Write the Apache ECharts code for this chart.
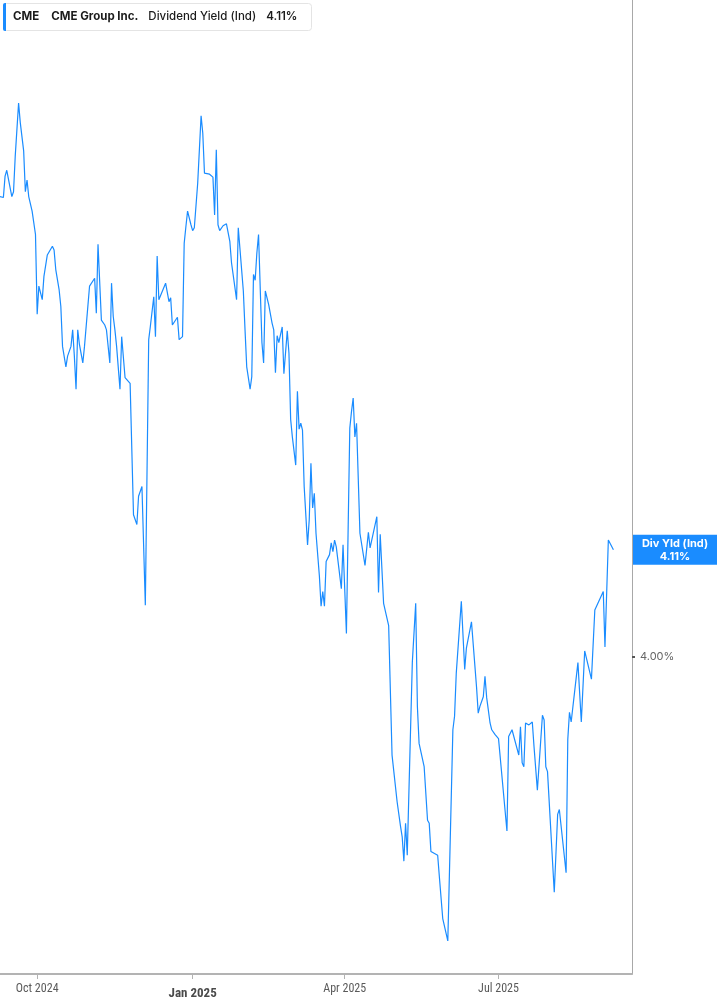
<!DOCTYPE html>
<html>
<head>
<meta charset="utf-8">
<script src="https://cdn.jsdelivr.net/npm/echarts@6/dist/echarts.min.js"></script>
<style>
html, body { margin: 0; padding: 0; background: #fff; }
#chart { width: 717px; height: 1005px; }
</style>
</head>
<body>
<div id="chart"></div>
<script>
var ticker = 'CME';
var company = 'CME Group Inc.';
var metric = 'Dividend Yield (Ind)';
var badgeName = 'Div Yld (Ind)';

var dates = [
  '2024-09-09','2024-09-11','2024-09-12','2024-09-13','2024-09-16','2024-09-17','2024-09-18','2024-09-20','2024-09-21','2024-09-23',
  '2024-09-24','2024-09-25','2024-09-26','2024-09-27','2024-09-28','2024-09-30','2024-10-01','2024-10-02','2024-10-04','2024-10-05',
  '2024-10-07','2024-10-08','2024-10-10','2024-10-11','2024-10-12','2024-10-14','2024-10-15','2024-10-16','2024-10-17','2024-10-18',
  '2024-10-19','2024-10-21','2024-10-22','2024-10-23','2024-10-24','2024-10-25','2024-10-26','2024-10-28','2024-10-29','2024-10-30',
  '2024-11-01','2024-11-04','2024-11-05','2024-11-06','2024-11-08','2024-11-10','2024-11-11','2024-11-13','2024-11-14','2024-11-15',
  '2024-11-16','2024-11-17','2024-11-19','2024-11-20','2024-11-22','2024-11-25','2024-11-27','2024-11-29','2024-11-30','2024-12-02',
  '2024-12-04','2024-12-06','2024-12-07','2024-12-09','2024-12-10','2024-12-11','2024-12-12','2024-12-16','2024-12-17','2024-12-18',
  '2024-12-19','2024-12-20','2024-12-23','2024-12-24','2024-12-26','2024-12-27','2024-12-28','2024-12-29','2024-12-31','2025-01-01',
  '2025-01-02','2025-01-04','2025-01-06','2025-01-07','2025-01-08','2025-01-09','2025-01-11','2025-01-13','2025-01-14','2025-01-15',
  '2025-01-16','2025-01-17','2025-01-19','2025-01-21','2025-01-23','2025-01-24','2025-01-27','2025-01-28','2025-01-31','2025-02-01',
  '2025-02-02','2025-02-04','2025-02-05','2025-02-06','2025-02-07','2025-02-08','2025-02-09','2025-02-10','2025-02-11','2025-02-12',
  '2025-02-13','2025-02-15','2025-02-17','2025-02-18','2025-02-19','2025-02-20','2025-02-21','2025-02-22','2025-02-23','2025-02-24',
  '2025-02-26','2025-02-27','2025-02-28','2025-03-01','2025-03-03','2025-03-04','2025-03-05','2025-03-06','2025-03-07','2025-03-08',
  '2025-03-10','2025-03-11','2025-03-12','2025-03-13','2025-03-14','2025-03-15','2025-03-17','2025-03-18','2025-03-19','2025-03-20',
  '2025-03-21','2025-03-23','2025-03-24','2025-03-25','2025-03-26','2025-03-27','2025-03-30','2025-03-31','2025-04-01','2025-04-02',
  '2025-04-04','2025-04-05','2025-04-06','2025-04-07','2025-04-08','2025-04-10','2025-04-13','2025-04-15','2025-04-16','2025-04-20',
  '2025-04-21','2025-04-22','2025-04-24','2025-04-27','2025-04-29','2025-04-30','2025-05-02','2025-05-04','2025-05-05','2025-05-06',
  '2025-05-07','2025-05-08','2025-05-11','2025-05-13','2025-05-14','2025-05-15','2025-05-18','2025-05-19','2025-05-20','2025-05-21',
  '2025-05-22','2025-05-26','2025-05-27','2025-05-28','2025-05-29','2025-06-01','2025-06-04','2025-06-05','2025-06-06','2025-06-09',
  '2025-06-11','2025-06-12','2025-06-15','2025-06-18','2025-06-19','2025-06-20','2025-06-22','2025-06-23','2025-06-24','2025-06-25',
  '2025-06-26','2025-06-27','2025-06-29','2025-06-30','2025-07-01','2025-07-06','2025-07-07','2025-07-08','2025-07-09','2025-07-10',
  '2025-07-13','2025-07-14','2025-07-15','2025-07-16','2025-07-17','2025-07-19','2025-07-20','2025-07-21','2025-07-22','2025-07-24',
  '2025-07-27','2025-07-28','2025-07-29','2025-07-30','2025-08-03','2025-08-05','2025-08-06','2025-08-10','2025-08-11','2025-08-12',
  '2025-08-13','2025-08-17','2025-08-19','2025-08-21','2025-08-25','2025-08-27','2025-09-01','2025-09-02','2025-09-04','2025-09-07'
];

var yields = [
  4.473,4.472,4.494,4.500,4.473,4.478,4.514,4.569,4.549,4.520,
  4.478,4.490,4.473,4.475,4.458,4.434,4.352,4.381,4.367,4.391,
  4.413,4.415,4.422,4.418,4.398,4.377,4.360,4.319,4.317,4.298,
  4.309,4.319,4.336,4.309,4.275,4.336,4.321,4.302,4.319,4.317,
  4.381,4.389,4.353,4.424,4.346,4.341,4.336,4.302,4.384,4.350,
  4.336,4.319,4.275,4.329,4.287,4.281,4.146,4.136,4.165,4.175,
  4.053,4.326,4.340,4.370,4.329,4.412,4.367,4.384,4.382,4.365,
  4.369,4.341,4.349,4.326,4.329,4.425,4.442,4.458,4.444,4.438,
  4.441,4.487,4.556,4.538,4.497,4.498,4.496,4.493,4.454,4.521,
  4.444,4.438,4.443,4.445,4.427,4.405,4.367,4.441,4.376,4.336,
  4.298,4.275,4.288,4.393,4.387,4.415,4.434,4.436,4.323,4.302,
  4.376,4.362,4.343,4.336,4.292,4.330,4.323,4.331,4.339,4.291,
  4.335,4.312,4.244,4.226,4.197,4.273,4.234,4.240,4.233,4.175,
  4.115,4.141,4.199,4.153,4.168,4.127,4.083,4.052,4.067,4.052,
  4.098,4.105,4.117,4.108,4.120,4.113,4.070,4.115,4.113,4.024,
  4.235,4.252,4.266,4.226,4.240,4.127,4.094,4.128,4.112,4.144,
  4.066,4.126,4.055,4.032,3.899,3.897,3.851,3.826,3.815,3.790,
  3.829,3.796,3.994,4.055,3.949,3.911,3.887,3.886,3.832,3.829,
  3.800,3.796,3.774,3.774,3.731,3.708,3.925,3.939,3.983,4.057,
  3.987,4.009,4.036,3.969,3.942,3.949,3.959,3.980,3.958,3.959,
  3.932,3.925,3.920,3.921,3.916,3.821,3.918,3.919,3.925,3.927,
  3.899,3.928,3.891,3.887,3.932,3.930,3.928,3.933,3.908,3.863,
  3.940,3.935,3.887,3.882,3.758,3.838,3.843,3.778,3.915,3.943,
  3.933,3.994,3.933,4.006,3.977,4.048,4.067,4.010,4.120,4.110
];

var xTicks = ['2024-10-01', '2025-01-01', '2025-04-01', '2025-07-01'];
var yTicks = [4.00];
var monthNames = ['Jan','Feb','Mar','Apr','May','Jun','Jul','Aug','Sep','Oct','Nov','Dec'];

var blue = '#1a8cff';

function ts(s) {
  var p = s.split('-').map(Number);
  return new Date(p[0], p[1] - 1, p[2]).getTime();
}

var seriesData = dates.map(function (d, i) { return [ts(d), yields[i]]; });
var last = yields[yields.length - 1];

var chart = echarts.init(document.getElementById('chart'));
chart.setOption({
  animation: false,
  backgroundColor: '#fff',
  title: {
    left: 3,
    top: 3,
    padding: 0,
    backgroundColor: '#fff',
    borderColor: '#e4e4e4',
    borderWidth: 1,
    borderRadius: 3,
    text: '{bar|}{tk|' + ticker + '}{co|' + company + '}{nm|' + metric + '}{vl|' + last.toFixed(2) + '%}',
    textStyle: {
      rich: {
        bar: { width: 3, height: 28, backgroundColor: blue, borderRadius: [2, 0, 0, 2] },
        tk: { fontFamily: 'Inter', fontSize: 11.5, fontWeight: 700, color: '#1b1b1b', lineHeight: 28, padding: [0, 12, 0, 7] },
        co: { fontFamily: 'Inter', fontSize: 11.5, fontWeight: 700, color: '#1b1b1b', lineHeight: 28, padding: [0, 10, 0, 0] },
        nm: { fontFamily: 'Inter', fontSize: 11.5, fontWeight: 500, color: '#1b1b1b', lineHeight: 28, padding: [0, 10, 0, 0] },
        vl: { fontFamily: 'Inter', fontSize: 11.5, fontWeight: 600, color: '#1b1b1b', lineHeight: 28, padding: [0, 14, 0, 0] }
      }
    }
  },
  grid: { left: 0, right: 85, top: 0, bottom: 31, containLabel: false },
  xAxis: {
    type: 'value',
    min: ts('2024-09-09'),
    max: ts('2025-09-18'),
    axisLine: { show: true, lineStyle: { color: '#b3b3b3', width: 2 } },
    axisTick: {
      show: true, length: 5, inside: false,
      customValues: xTicks.map(ts),
      lineStyle: { color: '#b3b3b3', width: 1 }
    },
    axisLabel: {
      customValues: xTicks.map(ts),
      margin: 9,
      formatter: function (v) {
        var d = new Date(v);
        var s = monthNames[d.getMonth()] + ' ' + d.getFullYear();
        return d.getMonth() === 0 ? '{y|' + s + '}' : '{m|' + s + '}';
      },
      rich: {
        m: { fontFamily: "'Liberation Sans Narrow', 'Roboto Condensed', Roboto, sans-serif", fontSize: 12, color: '#5a5a5a' },
        y: { fontFamily: "'Liberation Sans Narrow', 'Roboto Condensed', Roboto, sans-serif", fontSize: 13, fontWeight: 'bold', color: '#4a4a4a', padding: [4, 0, 0, 0] }
      }
    },
    splitLine: { show: false }
  },
  yAxis: {
    type: 'value',
    position: 'right',
    min: 3.674,
    max: 4.675,
    axisLine: { show: true, lineStyle: { color: '#a8a8a8', width: 1 } },
    axisTick: {
      show: true, length: 3, customValues: yTicks,
      lineStyle: { color: '#555', width: 2 }
    },
    axisLabel: {
      customValues: yTicks,
      margin: 8,
      fontFamily: 'Inter',
      fontSize: 11,
      color: '#666',
      formatter: function (v) { return v.toFixed(2) + '%'; }
    },
    splitLine: { show: false }
  },
  series: [{
    type: 'line',
    data: seriesData,
    showSymbol: false,
    symbol: 'none',
    clip: false,
    lineStyle: { color: blue, width: 1.2 },
    markLine: {
      silent: true,
      symbol: 'none',
      lineStyle: { color: 'rgba(0,0,0,0)', width: 1, type: 'solid' },
      data: [{ yAxis: last }],
      label: {
        show: true,
        position: 'end',
        distance: 1,
        backgroundColor: blue,
        padding: [2, 3, 2, 3],
        formatter: function (p) {
          return '{a|' + badgeName + '}\n{a|' + Number(p.value).toFixed(2) + '%}';
        },
        rich: {
          a: { width: 78, align: 'center', color: '#fff', fontFamily: 'Inter', fontSize: 11, fontWeight: 700, lineHeight: 13 }
        }
      }
    }
  }]
});
</script>
</body>
</html>
